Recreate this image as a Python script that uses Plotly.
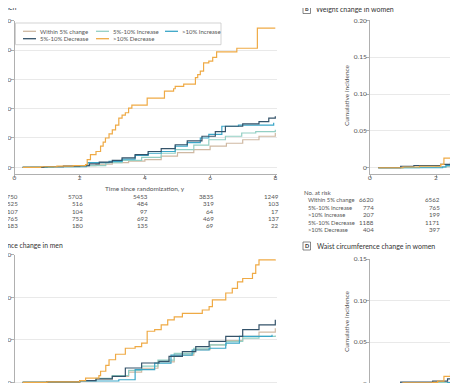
import plotly.graph_objects as go

W, H = 458, 383

# ---------------- data ----------------
groups = ["Within 5% change", "5%-10% Increase", ">10% Increase", "5%-10% Decrease", ">10% Decrease"]
colors = ["#cfb9a3", "#93cfc4", "#3aa6c8", "#34536a", "#efaa45"]

# Panel A: weight change in men
A_within_t = [0.25, 0.5, 1.0, 1.5, 2.0, 2.5, 3.0, 3.5, 4.0, 4.5, 5.0, 5.5, 6.0, 6.5, 7.0, 7.5, 8.0]
A_within_y = [0, 0.0006, 0.002, 0.004, 0.006, 0.011, 0.016, 0.021, 0.026, 0.038, 0.05, 0.06, 0.072, 0.082, 0.094, 0.106, 0.117]
A_inc510_t = [0.25, 1.2, 2.0, 2.8, 3.3, 3.9, 4.5, 4.93, 5.5, 5.96, 6.47, 6.97, 7.4, 8.0]
A_inc510_y = [0, 0.002, 0.006, 0.016, 0.024, 0.034, 0.048, 0.06, 0.076, 0.094, 0.106, 0.117, 0.122, 0.128]
A_inc10_t = [0.25, 1.0, 2.2, 2.25, 2.9, 3.3, 3.7, 4.1, 4.5, 4.93, 5.3, 5.7, 5.96, 6.36, 6.87, 7.9, 7.95]
A_inc10_y = [0, 0.002, 0.006, 0.016, 0.02, 0.028, 0.041, 0.048, 0.054, 0.072, 0.084, 0.1, 0.112, 0.14, 0.144, 0.144, 0.152]
A_dec510_t = [0.25, 0.9, 1.5, 2.0, 2.3, 2.6, 3.0, 3.3, 3.7, 4.1, 4.5, 4.93, 5.3, 5.75, 6.16, 6.47, 7.0, 7.5, 7.8, 8.0]
A_dec510_y = [0, 0.002, 0.004, 0.006, 0.012, 0.018, 0.024, 0.032, 0.043, 0.054, 0.064, 0.077, 0.09, 0.106, 0.122, 0.14, 0.148, 0.156, 0.168, 0.174]
A_dec10_t = [0.25, 0.8, 1.3, 1.8, 2.18, 2.23, 2.33, 2.5, 2.64, 2.72, 2.79, 2.9, 3.0, 3.1, 3.2, 3.3, 3.4, 3.5, 3.6,
             4.07, 4.6, 4.88, 4.93, 5.19, 5.55, 5.62, 5.7, 5.8, 5.96, 6.08, 6.2, 6.82, 7.45, 8.0]
A_dec10_y = [0, 0.002, 0.004, 0.006, 0.009, 0.026, 0.043, 0.054, 0.072, 0.086, 0.1, 0.114, 0.128, 0.144, 0.168, 0.178,
             0.186, 0.202, 0.212, 0.236, 0.26, 0.268, 0.276, 0.284, 0.306, 0.316, 0.328, 0.356, 0.362, 0.375, 0.394,
             0.406, 0.475, 0.475]

# Panel B: weight change in women
B_within_t = [0.25, 1.0, 2.0, 2.5, 3.0, 3.1]
B_within_y = [0, 0.0005, 0.0015, 0.002, 0.003, 0.0032]
B_inc510_t = [0.25, 1.5, 2.3, 2.6, 2.95, 3.1]
B_inc510_y = [0, 0.001, 0.002, 0.004, 0.006, 0.007]
B_inc10_t = [0.25, 2.2, 2.3, 2.65, 2.95, 3.1]
B_inc10_y = [0, 0.001, 0.003, 0.006, 0.009, 0.01]
B_dec510_t = [0.25, 0.93, 1.33, 2.14, 2.44, 2.75, 2.95, 3.1]
B_dec510_y = [0, 0.002, 0.003, 0.0045, 0.0067, 0.01, 0.013, 0.014]
B_dec10_t = [0.25, 1.0, 1.5, 2.14, 2.24, 2.55, 2.65, 2.75, 2.85, 2.95, 3.1]
B_dec10_y = [0, 0.001, 0.002, 0.0045, 0.013, 0.0156, 0.022, 0.038, 0.044, 0.047, 0.05]

# Panel C: waist circumference change in men
C_within_t = [0.25, 1.0, 2.0, 2.5, 3.0, 3.5, 3.9, 4.4, 4.9, 5.5, 6.0, 6.5, 7.0, 7.5, 8.0]
C_within_y = [0, 0.001, 0.004, 0.008, 0.014, 0.024, 0.033, 0.048, 0.064, 0.077, 0.088, 0.098, 0.108, 0.118, 0.127]
C_inc510_t = [0.25, 1.0, 2.0, 2.5, 3.0, 3.5, 3.9, 4.4, 4.9, 5.5, 6.0, 6.5, 7.0, 7.5, 8.0]
C_inc510_y = [0, 0.001, 0.004, 0.009, 0.016, 0.028, 0.038, 0.052, 0.068, 0.08, 0.088, 0.096, 0.104, 0.108, 0.11]
C_inc10_t = [0.25, 1.0, 2.0, 3.2, 3.7, 4.3, 4.8, 5.45, 5.97, 6.48, 6.9, 7.9]
C_inc10_y = [0, 0.001, 0.003, 0.006, 0.03, 0.045, 0.064, 0.076, 0.08, 0.092, 0.108, 0.112]
C_dec510_t = [0.25, 1.0, 2.0, 2.5, 3.0, 3.4, 3.9, 4.43, 4.74, 5.15, 5.56, 5.97, 6.48, 7.0, 7.5, 8.0]
C_dec510_y = [0, 0.001, 0.004, 0.008, 0.014, 0.0336, 0.0454, 0.049, 0.061, 0.072, 0.084, 0.096, 0.108, 0.124, 0.135, 0.147]
C_dec10_t = [0.25, 1.0, 2.0, 2.18, 2.59, 2.64, 2.8, 2.9, 3.1, 3.4, 3.7, 3.9, 4.07, 4.3, 4.5, 4.7, 4.9, 5.15,
             5.76, 5.97, 6.07, 6.48, 6.68, 6.84, 7.0, 7.3, 7.4, 7.5, 8.0]
C_dec10_y = [0, 0.001, 0.004, 0.01, 0.0156, 0.026, 0.04, 0.053, 0.066, 0.08, 0.084, 0.092, 0.12, 0.124, 0.135,
             0.147, 0.154, 0.162, 0.17, 0.178, 0.194, 0.21, 0.221, 0.236, 0.244, 0.256, 0.276, 0.288, 0.289]

# Panel D: waist circumference change in women
D_within_t = [0.25, 1.0, 2.0, 2.95, 3.1]
D_within_y = [0, 0.0005, 0.0015, 0.003, 0.0032]
D_inc510_t = [0.25, 2.0, 2.6, 2.95, 3.1]
D_inc510_y = [0, 0.001, 0.004, 0.0085, 0.009]
D_inc10_t = [0.25, 2.35, 2.95, 3.1]
D_inc10_y = [0, 0.001, 0.0044, 0.005]
D_dec510_t = [0.25, 0.93, 1.9, 2.35, 2.65, 2.95, 3.1]
D_dec510_y = [0, 0.0016, 0.003, 0.0056, 0.0097, 0.0145, 0.016]
D_dec10_t = [0.25, 1.0, 1.9, 2.05, 2.24, 2.44, 2.65, 2.8, 2.95, 3.1]
D_dec10_y = [0, 0.0008, 0.0015, 0.003, 0.0085, 0.0125, 0.0185, 0.0266, 0.0306, 0.032]

x_ticks = [0, 2, 4, 6, 8]
yA_ticks = [0, 0.1, 0.2, 0.3, 0.4, 0.5]
yA_text = ["0", "0.10", "0.20", "0.30", "0.40", "0.50"]
yB_ticks = [0, 0.05, 0.10, 0.15, 0.20]
yB_text = ["0", "0.05", "0.10", "0.15", "0.20"]
yC_ticks = [0, 0.1, 0.2, 0.3]
yC_text = ["0", "0.10", "0.20", "0.30"]
yD_ticks = [0, 0.05, 0.10, 0.15]
yD_text = ["0", "0.05", "0.10", "0.15"]

# numbers at risk
risk_times_men = [0, 2, 4, 6, 8]
risk_men = [
    ["5750", "5703", "5453", "3835", "1249"],
    ["525", "516", "484", "319", "103"],
    ["107", "104", "97", "64", "17"],
    ["765", "752", "692", "469", "137"],
    ["183", "180", "135", "69", "22"],
]
risk_times_women = [0, 2]
risk_women = [
    ["6620", "6562"],
    ["774", "765"],
    ["207", "199"],
    ["1188", "1171"],
    ["404", "397"],
]

# ---------------- figure ----------------
def fx(px):
    return px / W

def fy(py):
    return 1 - py / H

FONT = "Lato"
TXT = "#555555"

fig = go.Figure()

panels = [
    ("x", "y", [A_within_t, A_inc510_t, A_inc10_t, A_dec510_t, A_dec10_t],
     [A_within_y, A_inc510_y, A_inc10_y, A_dec510_y, A_dec10_y]),
    ("x2", "y2", [B_within_t, B_inc510_t, B_inc10_t, B_dec510_t, B_dec10_t],
     [B_within_y, B_inc510_y, B_inc10_y, B_dec510_y, B_dec10_y]),
    ("x3", "y3", [C_within_t, C_inc510_t, C_inc10_t, C_dec510_t, C_dec10_t],
     [C_within_y, C_inc510_y, C_inc10_y, C_dec510_y, C_dec10_y]),
    ("x4", "y4", [D_within_t, D_inc510_t, D_inc10_t, D_dec510_t, D_dec10_t],
     [D_within_y, D_inc510_y, D_inc10_y, D_dec510_y, D_dec10_y]),
]
for xa, ya, ts, ys in panels:
    for name, col, t, v in zip(groups, colors, ts, ys):
        fig.add_trace(go.Scatter(x=t, y=v, mode="lines", name=name, xaxis=xa, yaxis=ya,
                                 line=dict(color=col, width=1.2, shape="hv"),
                                 showlegend=False, hoverinfo="skip"))

left_x0 = 6.5
px_per_yr_left = 32.6
right_x0 = 362
px_per_yr_right = 33.0

common = dict(showgrid=True, gridcolor="#e9e9e9", gridwidth=1, zeroline=False, automargin=False,
              showline=True, linecolor="#b0b0b0", linewidth=1,
              ticks="outside", ticklen=3, tickcolor="#b0b0b0",
              tickfont=dict(family=FONT, size=6.5, color=TXT))

xcommon = dict(common, showgrid=False, tickvals=x_ticks, ticklabelstandoff=-6)
ycommon = dict(common, ticklabelstandoff=-2)

fig.update_layout(
    width=W, height=H, margin=dict(l=0, r=0, t=0, b=0, pad=0, autoexpand=False),
    paper_bgcolor="white", plot_bgcolor="white", showlegend=False,
    xaxis=dict(xcommon, domain=[fx(left_x0), fx(left_x0 + 8.05 * px_per_yr_left)], range=[0, 8.05], anchor="y"),
    yaxis=dict(ycommon, domain=[fy(166), fy(12.7)], range=[-0.0228, 0.5], tickvals=yA_ticks, ticktext=yA_text, anchor="x"),
    xaxis2=dict(xcommon, domain=[fx(right_x0), 1], range=[0, (W - right_x0) / px_per_yr_right], anchor="y2"),
    yaxis2=dict(ycommon, domain=[fy(166), fy(12.3)], range=[-0.0085, 0.2], tickvals=yB_ticks, ticktext=yB_text, anchor="x2"),
    xaxis3=dict(xcommon, domain=[fx(left_x0), fx(left_x0 + 8.05 * px_per_yr_left)], range=[0, 8.05], anchor="y3"),
    yaxis3=dict(ycommon, domain=[fy(380), fy(246.7)], range=[-0.0134, 0.30], tickvals=yC_ticks, ticktext=yC_text, anchor="x3"),
    xaxis4=dict(xcommon, domain=[fx(right_x0), 1], range=[0, (W - right_x0) / px_per_yr_right], anchor="y4"),
    yaxis4=dict(ycommon, domain=[fy(381.5), fy(251)], range=[-0.0072, 0.15], tickvals=yD_ticks, ticktext=yD_text, anchor="x4"),
)

ann = []
shapes = []

def text(x, y, s, size=6.5, xanchor="left", color=TXT, xref="paper", xshift=0):
    ann.append(dict(x=x, y=y, xref=xref, yref="paper", text=s, showarrow=False,
                    xanchor=xanchor, yanchor="middle", xshift=xshift, borderpad=0,
                    font=dict(family=FONT, size=size, color=color)))

# panel titles
text(fx(10), fy(-1), "A  Weight change in men", size=7, xanchor="right", color="#333333")
text(fx(307), fy(1.5), "Weight change in women", size=7, color="#333333")
text(fx(56), fy(236.5), "C  Waist circumference change in men", size=6.8, xanchor="right", color="#333333")
text(fx(308), fy(237.5), "Waist circumference change in women", size=7, color="#333333")
for lab, yc in (("B", 1.5), ("D", 238)):
    shapes.append(dict(type="rect", xref="paper", yref="paper", x0=fx(295), x1=fx(302.5),
                       y0=fy(yc + 4), y1=fy(yc - 4), line=dict(color="#555555", width=0.7)))
    text(fx(298.75), fy(yc), "<b>" + lab + "</b>", size=5.5, xanchor="center", color="#333333")

# axis titles
text(fx(left_x0 + 4 * px_per_yr_left), fy(180.5), "Time since randomization, y", xanchor="center")
text(fx(right_x0 + 4 * px_per_yr_right), fy(180.5), "Time since randomization, y", xanchor="center")
for yc in (87, 313):
    ann.append(dict(x=fx(338), y=fy(yc), xref="paper", yref="paper", text="Cumulative incidence",
                    showarrow=False, textangle=-90, xanchor="center", yanchor="middle",
                    font=dict(family=FONT, size=6.5, color=TXT)))

# numbers at risk tables
men_rows = [188.5, 195.8, 203.1, 210.4, 217.7]
for r, row in zip(men_rows, risk_men):
    for t, v in zip(risk_times_men, row):
        text(t, fy(r), v, size=6.2, xanchor="right", xref="x", xshift=4.5)
women_rows = [192, 199.3, 206.7, 214, 221.5]
text(fx(295), fy(184.5), "No. at risk", size=6)
for r, g, row in zip(women_rows, groups, risk_women):
    text(fx(299), fy(r), g, size=5.8)
    for t, v in zip(risk_times_women, row):
        text(t, fy(r), v, size=6.2, xanchor="right", xref="x2", xshift=4.5)

# legend box (panel A)
shapes.append(dict(type="rect", xref="paper", yref="paper", x0=fx(7.5), x1=fx(213),
                   y0=fy(36.7), y1=fy(15), line=dict(color="#c8c8c8", width=0.8), fillcolor="white"))
leg_pos = [(15, 23.3), (88, 23.3), (157, 23.3), (15, 30.7), (88, 30.7)]
for (lx, ly), g, c in zip(leg_pos, groups, colors):
    shapes.append(dict(type="line", xref="paper", yref="paper", x0=fx(lx), x1=fx(lx + 13),
                       y0=fy(ly), y1=fy(ly), line=dict(color=c, width=1.3)))
    text(fx(lx + 16), fy(ly), g, size=6)

fig.update_layout(annotations=ann, shapes=shapes)
fig.write_html("out.html")
